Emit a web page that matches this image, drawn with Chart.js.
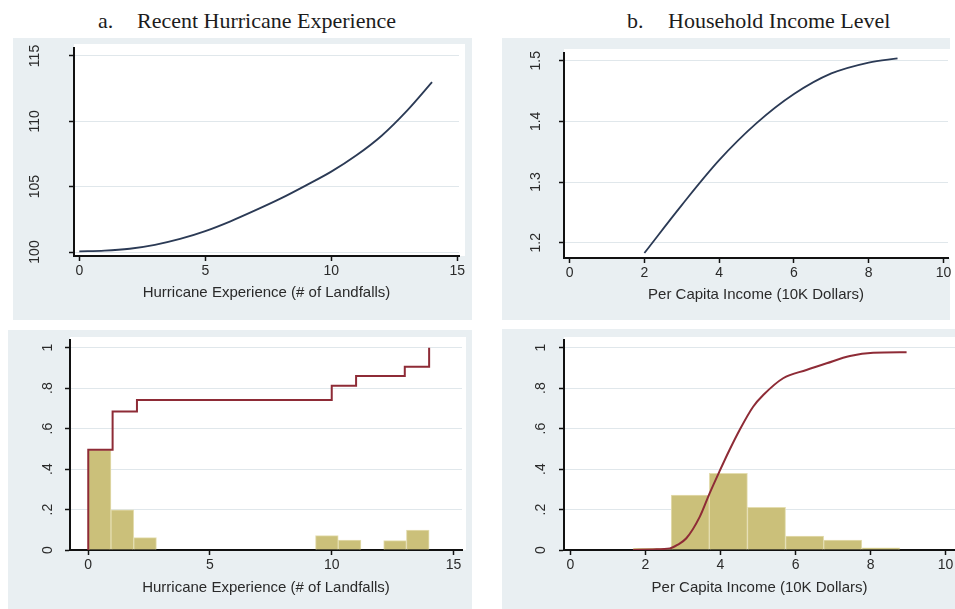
<!DOCTYPE html>
<html>
<head>
<meta charset="utf-8">
<script src="https://cdn.jsdelivr.net/npm/chart.js@4.4.0/dist/chart.umd.min.js"></script>
<style>
  html, body { margin: 0; padding: 0; background: #fff; width: 955px; height: 609px; overflow: hidden; position: relative; }
  .panel { position: absolute; background: #e9eff2; }
  canvas { position: absolute; }
  .title { position: absolute; font-family: "Liberation Serif", "Times New Roman", serif; font-size: 22px; line-height: 22px; color: #1c1c1c; white-space: nowrap; }
</style>
</head>
<body>
<div class="panel" style="left:13px;top:38px;width:459px;height:282px"></div>
<div class="panel" style="left:502px;top:38px;width:448px;height:282px"></div>
<div class="panel" style="left:8px;top:330px;width:464px;height:279px"></div>
<div class="panel" style="left:502px;top:329px;width:453px;height:280px"></div>

<div class="title" style="left:98px;top:10px">a.</div>
<div class="title" style="left:137px;top:10px">Recent Hurricane Experience</div>
<div class="title" style="left:627px;top:10px">b.</div>
<div class="title" style="left:668px;top:10px">Household Income Level</div>

<canvas id="effHurr" width="459" height="282" style="left:13px;top:38px"></canvas>
<canvas id="effInc" width="453" height="282" style="left:502px;top:38px"></canvas>
<canvas id="distHurr" width="464" height="279" style="left:8px;top:330px"></canvas>
<canvas id="distInc" width="453" height="280" style="left:502px;top:329px"></canvas>

<script>
// ---- Panel a, top: effect curve over number of landfalls ----
const landfalls = [0, 1, 2, 3, 4, 5, 6, 7, 8, 9, 10, 11, 12, 13, 14];
const hurricaneEffect = [100.05, 100.1, 100.25, 100.55, 101.0, 101.6, 102.35, 103.2, 104.1, 105.1, 106.15, 107.4, 108.9, 110.8, 113.0];

// ---- Panel b, top: effect curve over per-capita income ----
const incomeLevels = [2, 3, 4, 5, 6, 7, 8, 8.77];
const incomeEffect = [1.183, 1.262, 1.336, 1.397, 1.445, 1.479, 1.497, 1.504];

// ---- Panel a, bottom: landfall histogram (fractions) and empirical CDF ----
const landfallBinStart = [0, 0.933, 1.867, 2.8, 3.733, 4.667, 5.6, 6.533, 7.467, 8.4, 9.333, 10.267, 11.2, 12.133, 13.067];
const landfallBinWidth = 0.9333;
const landfallFraction = [0.494, 0.198, 0.061, 0, 0, 0, 0, 0, 0, 0, 0.071, 0.049, 0, 0.046, 0.099];
const landfallCdfX = [0, 0, 1, 2, 10, 11, 13, 14];
const landfallCdfY = [0, 0.495, 0.685, 0.742, 0.812, 0.86, 0.906, 1.0];

// ---- Panel b, bottom: income histogram (fractions) and empirical CDF ----
const incomeBinStart = [1.67, 2.686, 3.702, 4.718, 5.734, 6.75, 7.766];
const incomeBinWidth = 1.016;
const incomeFraction = [0.008, 0.272, 0.379, 0.211, 0.069, 0.049, 0.011];
const incomeCdfX = [1.67, 2.2, 2.65, 2.85, 3.09, 3.45, 3.71, 3.97, 4.24, 4.51, 4.87, 5.14, 5.67, 6.29, 6.83, 7.45, 8.07, 8.96];
const incomeCdfY = [0, 0.003, 0.008, 0.025, 0.058, 0.165, 0.28, 0.387, 0.494, 0.593, 0.708, 0.766, 0.849, 0.89, 0.923, 0.959, 0.975, 0.977];

// ---- Axis ticks ----
const xTicksLandfalls = [0, 5, 10, 15];
const xTicksIncome = [0, 2, 4, 6, 8, 10];
const yTicksEffHurr = [100, 105, 110, 115];
const yLabelsEffHurr = ['100', '105', '110', '115'];
const yTicksEffInc = [1.2, 1.3, 1.4, 1.5];
const yLabelsEffInc = ['1.2', '1.3', '1.4', '1.5'];
const yTicksFraction = [0, 0.2, 0.4, 0.6, 0.8, 1];
const yLabelsFraction = ['0', '.2', '.4', '.6', '.8', '1'];

const xTitleHurr = 'Hurricane Experience (# of Landfalls)';
const xTitleInc = 'Per Capita Income (10K Dollars)';

const SANS = '"Liberation Sans", Arial, sans-serif';
const INK = '#2a2a2a';
const AXIS = '#111111';
const GRID = '#e0e7eb';
const CURVE = '#2b3a55';
const CDF = '#8e2b36';
const BAR = '#cbc07a';
const BAR_EDGE = '#e4ddb0';

// white plot region behind the grid
const plotRegion = {
  id: 'plotRegion',
  beforeDraw(chart, args, opts) {
    const a = chart.chartArea, ctx = chart.ctx;
    ctx.save();
    ctx.fillStyle = '#ffffff';
    ctx.fillRect(a.left, a.top - opts.top, a.right - a.left + opts.right, a.bottom - a.top + opts.top);
    ctx.restore();
  }
};

// vertical y tick labels, reading bottom to top
const yLabels = {
  id: 'yLabels',
  afterDraw(chart, args, opts) {
    const s = chart.scales.y, ctx = chart.ctx;
    ctx.save();
    ctx.font = '14px ' + SANS;
    ctx.fillStyle = INK;
    ctx.textAlign = 'center';
    ctx.textBaseline = 'middle';
    s.ticks.forEach((t, i) => {
      const py = s.getPixelForValue(t.value);
      ctx.save();
      ctx.translate(chart.chartArea.left - opts.gap, py);
      ctx.rotate(-Math.PI / 2);
      ctx.fillText(opts.labels[i], 0, 0);
      ctx.restore();
    });
    ctx.restore();
  }
};

function xScale(min, max, ticks, title, titlePad) {
  return {
    type: 'linear', min, max, offset: false,
    afterBuildTicks: s => { s.ticks = ticks.map(v => ({ value: v })); },
    afterFit: s => { s.height = 50; s.paddingLeft = 0; s.paddingRight = 0; },
    grid: { offset: false, drawOnChartArea: false, drawTicks: true, tickLength: 5, tickColor: AXIS, tickWidth: 1.5 },
    border: { display: true, color: AXIS, width: 2 },
    ticks: { font: { family: SANS, size: 14 }, color: INK, padding: 2, maxRotation: 0, autoSkip: false,
             callback: v => String(v) },
    title: { display: true, text: title, font: { family: SANS, size: 15 }, color: INK,
             padding: { top: 0, bottom: titlePad } }
  };
}

function yScale(min, max, ticks) {
  return {
    type: 'linear', min, max,
    afterBuildTicks: s => { s.ticks = ticks.map(v => ({ value: v })); },
    afterFit: s => { s.width = 20; s.paddingTop = 0; s.paddingBottom = 0; },
    grid: { offset: false, color: GRID, lineWidth: 1, drawTicks: true, tickLength: 5, tickColor: AXIS, tickWidth: 1.5 },
    border: { display: true, color: AXIS, width: 2 },
    ticks: { display: false }
  };
}

function baseOptions(pad, x, y, region, gap, labels) {
  return {
    responsive: false, animation: false, devicePixelRatio: 1,
    layout: { padding: pad },
    scales: { x, y },
    plugins: {
      legend: { display: false }, tooltip: { enabled: false },
      plotRegion: region,
      yLabels: { gap, labels }
    }
  };
}

const pts = (xs, ys) => xs.map((v, i) => ({ x: v, y: ys[i] }));
const bars = (starts, w, ys) => starts.map((s, i) => ({ x: s + w / 2, y: ys[i] }));

// top-left: landfall effect
new Chart(document.getElementById('effHurr'), {
  type: 'line',
  data: { datasets: [{ data: pts(landfalls, hurricaneEffect), borderColor: CURVE, borderWidth: 1.8,
                       pointRadius: 0, cubicInterpolationMode: 'monotone', fill: false }] },
  options: baseOptions({ left: 41, right: 13, top: 10, bottom: 14 },
    xScale(-0.21, 15.07, xTicksLandfalls, xTitleHurr, 4),
    yScale(99.694, 115.612, yTicksEffHurr),
    { top: 4, right: 6 }, 39, yLabelsEffHurr),
  plugins: [plotRegion, yLabels]
});

// top-right: income effect
new Chart(document.getElementById('effInc'), {
  type: 'line',
  data: { datasets: [{ data: pts(incomeLevels, incomeEffect), borderColor: CURVE, borderWidth: 1.8,
                       pointRadius: 0, cubicInterpolationMode: 'monotone', fill: false }] },
  options: baseOptions({ left: 42, right: 7, top: 15, bottom: 12 },
    xScale(-0.15, 10.12, xTicksIncome, xTitleInc, 4),
    yScale(1.1748, 1.5127, yTicksEffInc),
    { top: 4, right: 2 }, 27.6, yLabelsEffInc),
  plugins: [plotRegion, yLabels]
});

// bottom-left: landfall distribution
new Chart(document.getElementById('distHurr'), {
  type: 'bar',
  data: { datasets: [
    { type: 'line', order: 0, data: pts(landfallCdfX, landfallCdfY), borderColor: CDF, borderWidth: 2,
      pointRadius: 0, stepped: 'before', fill: false },
    { type: 'bar', order: 1, data: bars(landfallBinStart, landfallBinWidth, landfallFraction),
      backgroundColor: BAR, borderColor: BAR_EDGE, borderWidth: 1,
      barPercentage: 1, categoryPercentage: 1 }
  ] },
  options: baseOptions({ left: 42, right: 10, top: 10, bottom: 9 },
    xScale(-0.75, 15.35, xTicksLandfalls, xTitleHurr, 3),
    yScale(0, 1.038, yTicksFraction),
    { top: 3, right: 4 }, 22, yLabelsFraction),
  plugins: [plotRegion, yLabels]
});

// bottom-right: income distribution
new Chart(document.getElementById('distInc'), {
  type: 'bar',
  data: { datasets: [
    { type: 'line', order: 0, data: pts(incomeCdfX, incomeCdfY), borderColor: CDF, borderWidth: 2,
      pointRadius: 0, cubicInterpolationMode: 'monotone', fill: false },
    { type: 'bar', order: 1, data: bars(incomeBinStart, incomeBinWidth, incomeFraction),
      backgroundColor: BAR, borderColor: BAR_EDGE, borderWidth: 1,
      barPercentage: 1, categoryPercentage: 1 }
  ] },
  options: baseOptions({ left: 42, right: 0, top: 11, bottom: 9 },
    xScale(-0.17, 10.25, xTicksIncome, xTitleInc, 3),
    yScale(0, 1.038, yTicksFraction),
    { top: 3, right: 0 }, 22.6, yLabelsFraction),
  plugins: [plotRegion, yLabels]
});
</script>
</body>
</html>
